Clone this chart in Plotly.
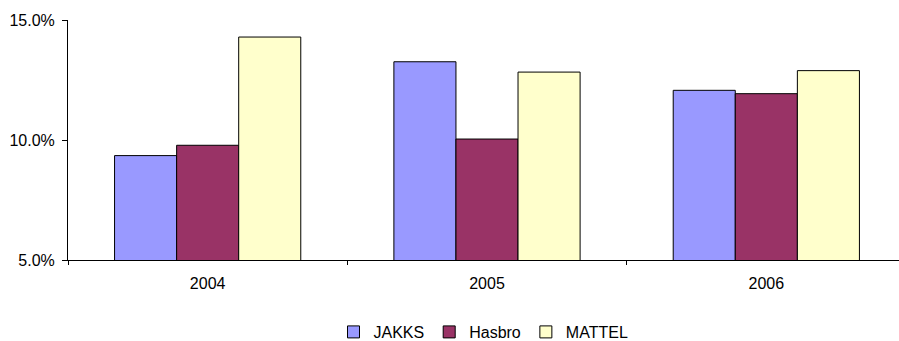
import plotly.graph_objects as go

years = ["2004", "2005", "2006"]
jakks = [9.35, 13.26, 12.07]
hasbro = [9.78, 10.04, 11.93]
mattel = [14.29, 12.83, 12.89]
series_names = ["JAKKS", "Hasbro", "MATTEL"]
colors = ["#9999FF", "#993366", "#FFFFCC"]
y_ticks = [5, 10, 15]
y_tick_labels = ["5.0%", "10.0%", "15.0%"]

fig = go.Figure()
for name, vals, col in zip(series_names, [jakks, hasbro, mattel], colors):
    fig.add_trace(go.Bar(
        x=years, y=vals, name=name,
        marker=dict(color=col, line=dict(color="#000000", width=1)),
    ))

font = dict(family="Liberation Sans, Arial, sans-serif", size=16, color="#000000")
fig.update_layout(
    width=899, height=341,
    margin=dict(l=68, r=0, t=20, b=81, autoexpand=False),
    paper_bgcolor="white", plot_bgcolor="white",
    barmode="group", bargap=1.5 / 4.5, bargroupgap=0,
    font=font,
    showlegend=True,
    legend=dict(orientation="h", x=0.5, xanchor="center", y=-0.3, yanchor="middle",
                font=dict(family="Liberation Sans, Arial, sans-serif", size=16),
                itemwidth=30, traceorder="normal"),
    xaxis=dict(type="category", range=[-0.5, 2.475], showline=True, linecolor="#000000",
               linewidth=1, ticks="outside", tickson="boundaries", ticklen=4,
               tickcolor="#000000", showgrid=False, zeroline=False, fixedrange=True,
               ticklabelstandoff=9, automargin=False),
    yaxis=dict(range=[5, 15], tickmode="array", tickvals=y_ticks, ticktext=y_tick_labels,
               showline=True, linecolor="#000000", linewidth=1, ticks="outside",
               ticklen=5, tickcolor="#000000", showgrid=False, zeroline=False,
               ticklabelstandoff=4, fixedrange=True, automargin=False),
)

fig.write_html("out.html")
